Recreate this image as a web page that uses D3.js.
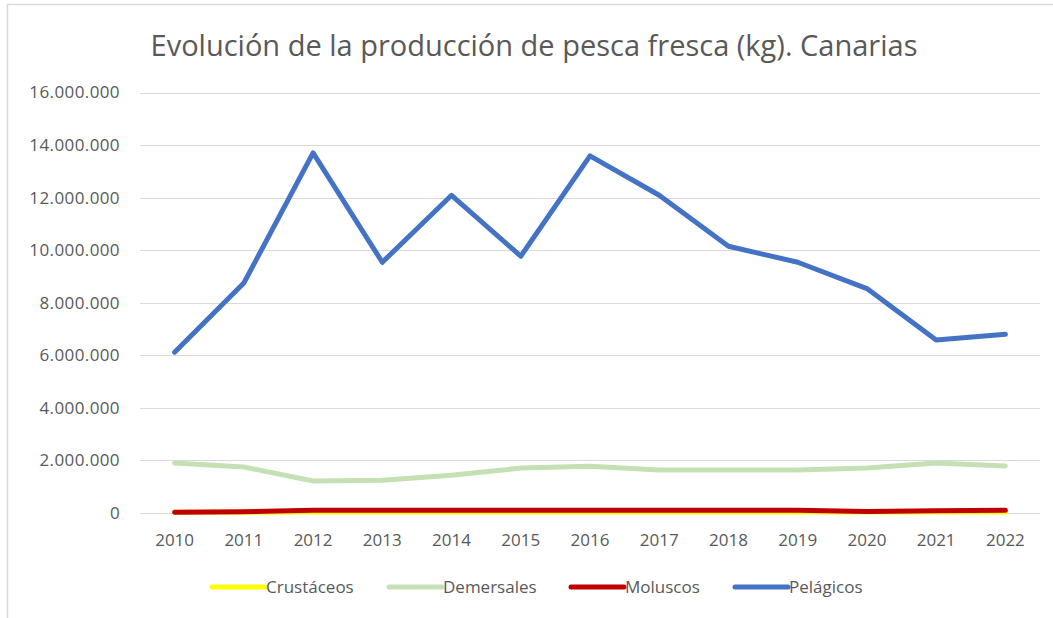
<!DOCTYPE html>
<html>
<head>
<meta charset="utf-8">
<script src="https://cdn.jsdelivr.net/npm/d3@7"></script>
<style>
  body { margin: 0; background: #fff; }
  text { font-family: "Open Sans", "Noto Sans", sans-serif; }
</style>
</head>
<body>
<svg id="chart" width="1053" height="618"></svg>
<script>
// data (kg)
var years = ["2010","2011","2012","2013","2014","2015","2016","2017","2018","2019","2020","2021","2022"];
var crustaceos = [30000, 30000, 40000, 40000, 40000, 40000, 40000, 40000, 40000, 40000, 40000, 40000, 40000];
var demersales = [1900000, 1750000, 1220000, 1250000, 1440000, 1710000, 1780000, 1640000, 1640000, 1640000, 1710000, 1900000, 1790000];
var moluscos = [30000, 50000, 100000, 100000, 100000, 100000, 100000, 100000, 100000, 100000, 60000, 90000, 100000];
var pelagicos = [6120000, 8750000, 13700000, 9540000, 12090000, 9770000, 13590000, 12090000, 10150000, 9540000, 8540000, 6580000, 6800000];
var yTicks = [0, 2000000, 4000000, 6000000, 8000000, 10000000, 12000000, 14000000, 16000000];

var series = [
    {name: "Crustáceos", values: crustaceos, color: "#ffff00"},
    {name: "Demersales", values: demersales, color: "#c5e0b4"},
    {name: "Moluscos", values: moluscos, color: "#c00000"},
    {name: "Pelágicos", values: pelagicos, color: "#4472c4"}
];

var svg = d3.select("#chart");

// chart frame (only top and left edges show in the original)
svg.append("path")
    .attr("d", "M7.5,618 L7.5,4.5 L1053,4.5")
    .attr("fill", "none")
    .attr("stroke", "#d9d9d9")
    .attr("stroke-width", 1.5);

var plotLeft = 140, plotRight = 1040, plotTop = 92.5, plotBottom = 513;

var x = d3.scaleBand()
    .domain(years)
    .range([plotLeft, plotRight]);
var y = d3.scaleLinear()
    .domain([0, 16000000])
    .range([plotBottom, plotTop]);

var fmt = function(d){
    return d3.format(",")(d).replace(/,/g, ".");
};

// gridlines
svg.append("g").selectAll("line")
    .data(yTicks)
    .enter().append("line")
    .attr("x1", plotLeft)
    .attr("x2", plotRight)
    .attr("y1", function(d){ return Math.round(y(d)) + 0.5; })
    .attr("y2", function(d){ return Math.round(y(d)) + 0.5; })
    .attr("stroke", "#d9d9d9")
    .attr("stroke-width", 1);

// y labels
svg.append("g").selectAll("text")
    .data(yTicks)
    .enter().append("text")
    .attr("x", 120)
    .attr("y", function(d){ return y(d); })
    .attr("dy", "0.35em")
    .attr("text-anchor", "end")
    .attr("font-size", "17px")
    .attr("letter-spacing", "0.4px")
    .attr("fill", "#595959")
    .text(fmt);

// x labels
svg.append("g").selectAll("text")
    .data(years)
    .enter().append("text")
    .attr("x", function(d){ return x(d) + x.bandwidth()/2; })
    .attr("y", 540)
    .attr("dy", "0.35em")
    .attr("text-anchor", "middle")
    .attr("font-size", "17px")
    .attr("fill", "#595959")
    .text(function(d){ return d; });

// lines
var line = d3.line()
    .x(function(d, i){ return x(years[i]) + x.bandwidth()/2; })
    .y(function(d){ return y(d); });

svg.append("g").selectAll("path")
    .data(series)
    .enter().append("path")
    .attr("d", function(s){ return line(s.values); })
    .attr("fill", "none")
    .attr("stroke", function(s){ return s.color; })
    .attr("stroke-width", 5)
    .attr("stroke-linejoin", "round")
    .attr("stroke-linecap", "round");

// title
svg.append("text")
    .attr("x", 534)
    .attr("y", 46)
    .attr("dy", "0.35em")
    .attr("text-anchor", "middle")
    .attr("font-size", "29px")
    .attr("fill", "#595959")
    .text("Evolución de la producción de pesca fresca (kg). Canarias");

// legend
var legendX = [212, 389, 571, 735];
var lg = svg.append("g").selectAll("g")
    .data(series)
    .enter().append("g")
    .attr("transform", function(d, i){ return "translate(" + legendX[i] + ",587)"; });
lg.append("line")
    .attr("x1", 0).attr("x2", 53)
    .attr("stroke", function(d){ return d.color; })
    .attr("stroke-width", 5)
    .attr("stroke-linecap", "round");
lg.append("text")
    .attr("x", 54)
    .attr("dy", "0.35em")
    .attr("font-size", "17px")
    .attr("fill", "#595959")
    .text(function(d){ return d.name; });
</script>
</body>
</html>
